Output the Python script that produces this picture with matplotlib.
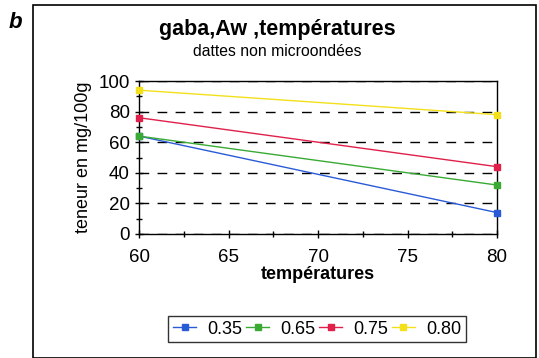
import matplotlib
matplotlib.use("Agg")
import matplotlib.pyplot as plt
from matplotlib.patches import Rectangle
from matplotlib.ticker import MultipleLocator

# data
temperatures = [60, 80]
aw_labels = ["0.35", "0.65", "0.75", "0.80"]
gaba_035 = [64, 14]
gaba_065 = [64, 32]
gaba_075 = [76, 44]
gaba_080 = [94, 78]
series = [gaba_035, gaba_065, gaba_075, gaba_080]
colors = ["#2a5bd7", "#3aaa35", "#e0204a", "#f2e01a"]

plt.rcParams["font.family"] = ["Liberation Sans", "DejaVu Sans"]

fig = plt.figure(figsize=(5.39, 3.58), dpi=100)
ax = fig.add_axes([139 / 539, 1 - 234 / 358, (497 - 139) / 539, (234 - 81) / 358])

for vals, lab, col in zip(series, aw_labels, colors):
    ax.plot(temperatures, vals, color=col, linewidth=1, marker="s",
            markersize=4, label=lab, clip_on=False, zorder=3)

ax.set_xlim(60, 80)
ax.set_ylim(0, 100)
ax.xaxis.set_major_locator(MultipleLocator(5))
ax.xaxis.set_minor_locator(MultipleLocator(2.5))
ax.yaxis.set_major_locator(MultipleLocator(20))
ax.yaxis.set_minor_locator(MultipleLocator(10))
ax.tick_params(axis="both", which="major", direction="inout", length=6,
               labelsize=13.5, width=1)
ax.tick_params(axis="x", which="major", pad=8)
ax.tick_params(axis="both", which="minor", direction="inout", length=4, width=1)
ax.tick_params(axis="y", which="both", right=False)
ax.yaxis.grid(True, linestyle=(0, (7, 6)), color="black", linewidth=1)
ax.set_axisbelow(True)
for s in ax.spines.values():
    s.set_linewidth(1)

ax.set_xlabel("températures", fontsize=13, fontweight="bold", labelpad=0)
ax.set_ylabel("teneur en mg/100g", fontsize=13)
ax.yaxis.set_label_coords(-0.13, 0.5)

fig.text(277 / 539, 1 - 30 / 358, "gaba,Aw ,températures", fontsize=15.5,
         fontweight="bold", ha="center", va="center")
fig.text(277 / 539, 1 - 52 / 358, "dattes non microondées", fontsize=11.3,
         ha="center", va="center")
fig.text(15 / 539, 1 - 22 / 358, "b", fontsize=16, fontweight="bold",
         fontstyle="italic", ha="center", va="center")

# outer frame
fig.patches.append(Rectangle((33 / 539, 0.0), (536 - 33) / 539, 1 - 5 / 358,
                             transform=fig.transFigure, fill=False,
                             edgecolor="black", linewidth=1.2))

leg = fig.legend(loc="center", bbox_to_anchor=(317 / 539, 1 - 329 / 358),
                 ncol=4, fontsize=13, frameon=True, fancybox=False,
                 handlelength=1.3, handletextpad=0.6, columnspacing=0.2,
                 borderpad=0.25)
leg.get_frame().set_edgecolor("black")
leg.get_frame().set_linewidth(1)

fig.savefig("out.png", dpi=100)
